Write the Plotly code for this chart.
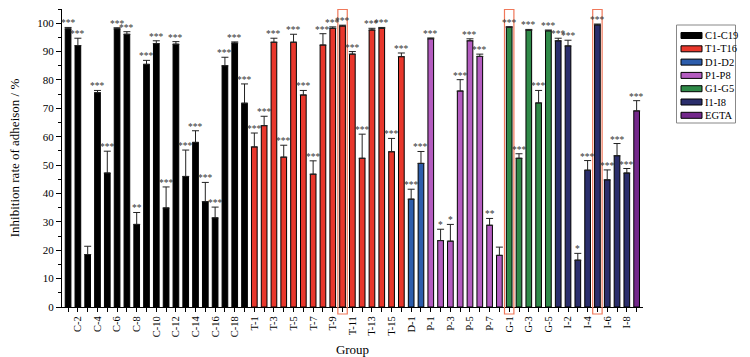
import plotly.graph_objects as go

# ---------------- data ----------------
group_names = ["C1-C19", "T1-T16", "D1-D2", "P1-P8", "G1-G5", "I1-I8", "EGTA"]
group_colors = ["#000000", "#E8372C", "#2C5DAC", "#B45CC0", "#2F8A48", "#2B2E6C", "#74288B"]

C_labels = ["C-%d" % i for i in range(1, 20)]
C_values = [98.0, 92.1, 18.5, 75.5, 47.2, 98.0, 96.1, 29.1, 85.5, 92.8, 34.9, 92.6, 46.0, 58.0, 37.1, 31.4, 85.0, 93.0, 71.8]
C_err = [0.5, 2.6, 2.9, 0.8, 7.7, 0.4, 0.9, 4.2, 1.4, 1.0, 7.4, 0.9, 9.3, 4.1, 6.8, 3.8, 3.0, 0.4, 6.8]
C_sig = ["***", "***", "", "***", "***", "***", "***", "**", "***", "***", "***", "***", "***", "***", "***", "***", "***", "***", "***"]

T_labels = ["T-%d" % i for i in range(1, 17)]
T_values = [56.4, 63.9, 93.3, 52.8, 93.3, 74.7, 46.8, 92.3, 98.2, 99.0, 89.1, 52.4, 97.6, 98.2, 54.7, 88.2]
T_err = [4.9, 3.3, 1.4, 4.2, 2.8, 1.6, 4.7, 4.0, 0.5, 0.3, 0.9, 8.5, 0.6, 0.3, 4.7, 1.3]
T_sig = ["***"] * 16

D_labels = ["D-1", "D-2"]
D_values = [38.0, 50.6]
D_err = [3.5, 4.2]
D_sig = ["***", "***"]

P_labels = ["P-%d" % i for i in range(1, 9)]
P_values = [94.5, 23.4, 23.2, 76.1, 93.8, 88.3, 28.8, 18.2]
P_err = [0.3, 4.0, 5.9, 4.0, 0.7, 0.8, 2.4, 2.9]
P_sig = ["***", "*", "*", "***", "***", "***", "**", ""]

G_labels = ["G-%d" % i for i in range(1, 6)]
G_values = [98.5, 52.4, 97.5, 71.9, 97.3]
G_err = [0.3, 1.6, 0.3, 4.4, 0.3]
G_sig = ["***"] * 5

I_labels = ["I-%d" % i for i in range(1, 9)]
I_values = [93.8, 92.0, 16.5, 48.2, 99.4, 44.8, 53.3, 47.2]
I_err = [0.9, 2.0, 2.4, 3.4, 0.3, 3.5, 4.3, 1.6]
I_sig = ["***", "***", "*", "***", "***", "***", "***", "***"]

E_labels = ["EGTA"]
E_values = [69.1]
E_err = [3.6]
E_sig = ["***"]

highlighted = ["T-10", "G-1", "I-5"]

y_ticks = list(range(0, 101, 10))

groups = [
    (C_labels, C_values, C_err, C_sig),
    (T_labels, T_values, T_err, T_sig),
    (D_labels, D_values, D_err, D_sig),
    (P_labels, P_values, P_err, P_sig),
    (G_labels, G_values, G_err, G_sig),
    (I_labels, I_values, I_err, I_sig),
    (E_labels, E_values, E_err, E_sig),
]

# ---------------- layout geometry ----------------
W, H = 750, 357
ML, MR, MT, MB = 62, 107, 9, 50
PW = W - ML - MR
PH = H - MT - MB
FONT = "Liberation Serif, Times New Roman, serif"


def px_x(px):
    return (px - ML) / PW


def px_y(py):
    return (H - MB - py) / PH


fig = go.Figure()
all_labels = []
annotations = []
idx = 0
for (labels, vals, errs, sigs), name, color in zip(groups, group_names, group_colors):
    xs = list(range(idx, idx + len(labels)))
    fig.add_trace(go.Bar(
        x=xs, y=vals, name=name, width=0.58,
        marker=dict(color=color, line=dict(color="#000000", width=1)),
        error_y=dict(type="data", symmetric=False, array=errs, arrayminus=[0] * len(errs),
                     color="#222222", thickness=1, width=3.5),
        showlegend=False,
    ))
    for x, v, e, s in zip(xs, vals, errs, sigs):
        if s:
            annotations.append(dict(x=x, y=v + e, xref="x", yref="y", text=s, showarrow=False,
                                    yanchor="bottom", xanchor="center", yshift=-3,
                                    font=dict(family=FONT, size=9.5, color="#333333")))
    all_labels += labels
    idx += len(labels)

n = len(all_labels)
tick_text = [lab if i % 2 == 1 else "" for i, lab in enumerate(all_labels)]

shapes = []
for lab in highlighted:
    i = all_labels.index(lab)
    shapes.append(dict(type="rect", xref="x", yref="paper", x0=i - 0.48, x1=i + 0.48,
                       y0=px_y(314), y1=px_y(9.5), line=dict(color="#F0785A", width=1.2),
                       fillcolor="rgba(0,0,0,0)", layer="above"))

# custom legend
shapes.append(dict(type="rect", xref="paper", yref="paper", x0=px_x(676.5), x1=px_x(735.5),
                   y0=px_y(123), y1=px_y(25), line=dict(color="#888888", width=1),
                   fillcolor="rgba(0,0,0,0)", layer="above"))
for k, (name, color) in enumerate(zip(group_names, group_colors)):
    cy = 35.5 + 13.3 * k
    shapes.append(dict(type="rect", xref="paper", yref="paper", x0=px_x(681), x1=px_x(702),
                       y0=px_y(cy + 3), y1=px_y(cy - 3), line=dict(color="#000000", width=1),
                       fillcolor=color, layer="above"))
    annotations.append(dict(x=px_x(702.5), y=px_y(cy), xref="paper", yref="paper", text=name,
                            showarrow=False, xanchor="left", yanchor="middle",
                            font=dict(family=FONT, size=10.5, color="#000000")))

fig.update_layout(
    width=W, height=H,
    margin=dict(l=ML, r=MR, t=MT, b=MB, autoexpand=False),
    paper_bgcolor="#ffffff", plot_bgcolor="#ffffff",
    font=dict(family=FONT, color="#000000"),
    barmode="overlay",
    showlegend=False,
    annotations=annotations,
    shapes=shapes,
    xaxis=dict(
        range=[-0.62, n - 1 + 0.65], tickmode="array", tickvals=list(range(n)), ticktext=tick_text,
        tickangle=-90, ticks="outside", ticklen=4, tickwidth=1, tickcolor="#000000",
        showline=True, linecolor="#000000", linewidth=1, showgrid=False, zeroline=False,
        automargin=False,
        tickfont=dict(family=FONT, size=10.5, color="#000000"),
        title=dict(text="Group", font=dict(family=FONT, size=13), standoff=18),
    ),
    yaxis=dict(
        range=[0, 105], tickmode="array", tickvals=y_ticks,
        ticks="outside", ticklen=5, tickwidth=1, tickcolor="#000000",
        minor=dict(dtick=5, tick0=0, ticks="outside", ticklen=3, tickcolor="#000000"),
        showline=True, linecolor="#000000", linewidth=1, showgrid=False, zeroline=False,
        automargin=False,
        tickfont=dict(family=FONT, size=11, color="#000000"),
        title=dict(text="Inhibition rate of adheison / %", font=dict(family=FONT, size=13), standoff=14),
    ),
)

fig.write_html("out.html", config={"displayModeBar": False},
               post_script="document.body.style.margin='0';document.body.style.overflow='hidden';")
